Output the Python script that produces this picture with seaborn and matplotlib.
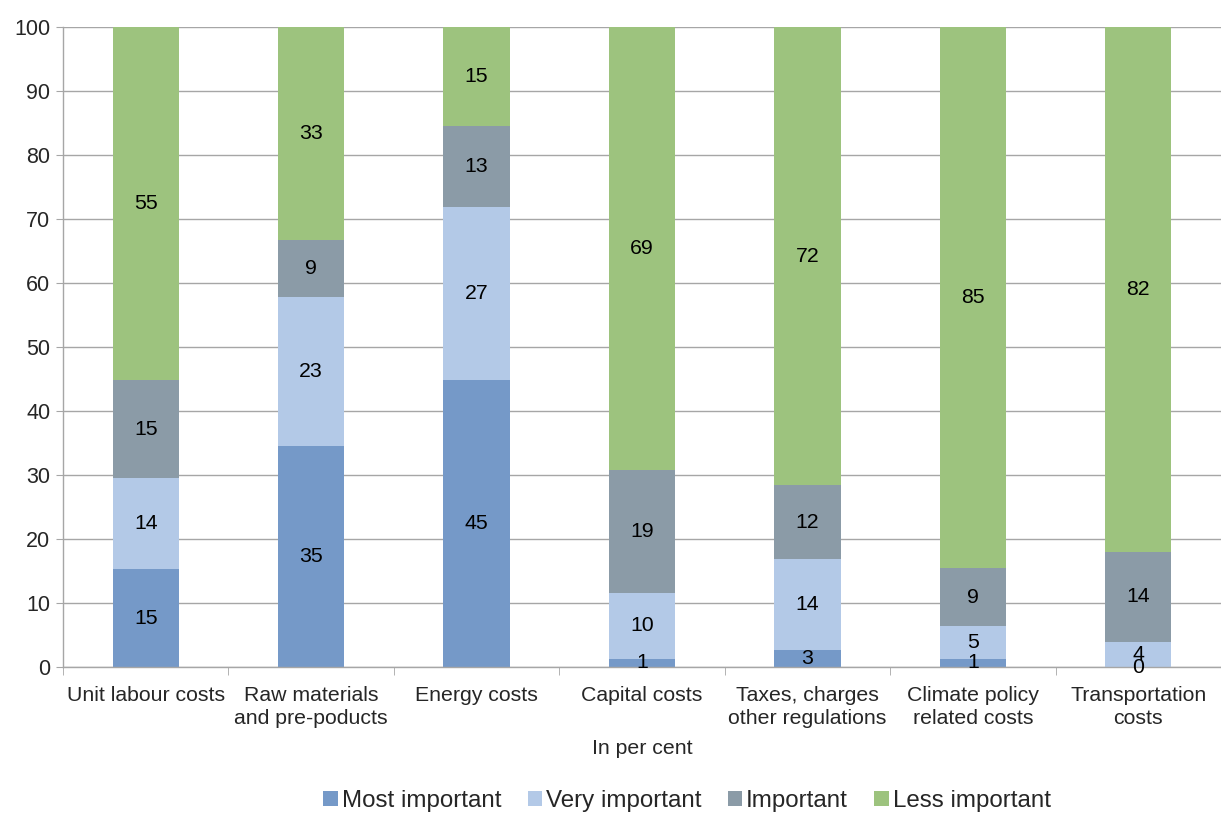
import numpy as np
import pandas as pd
import matplotlib
matplotlib.use("Agg")
import matplotlib.pyplot as plt
import seaborn as sns
from matplotlib.patches import Patch

categories = ["Unit labour costs", "Raw materials\nand pre-poducts", "Energy costs",
              "Capital costs", "Taxes, charges\nother regulations",
              "Climate policy\nrelated costs", "Transportation\ncosts"]
most_important = [15.3, 34.6, 44.8, 1.3, 2.6, 1.3, 0.0]
very_important = [14.2, 23.2, 27.1, 10.3, 14.2, 5.1, 3.9]
important = [15.3, 8.9, 12.7, 19.2, 11.6, 9.0, 14.1]
less_important = [55.2, 33.3, 15.4, 69.2, 71.6, 84.6, 82.0]

series = ["Most important", "Very important", "Important", "Less important"]
colors = ["#7599c8", "#b3c9e7", "#8b9ba7", "#9dc37e"]

sns.set_style("white")
plt.rcParams["font.family"] = ["Liberation Sans", "DejaVu Sans"]

df = pd.DataFrame({"cat": categories, series[0]: most_important,
                   series[1]: very_important, series[2]: important,
                   series[3]: less_important})
cum = df[series].cumsum(axis=1)

fig = plt.figure(figsize=(12.21, 8.13), dpi=100)
ax = fig.add_axes([63 / 1221, 1 - 667 / 813, (1221 - 63) / 1221, 640 / 813])

# draw cumulative totals from top down so shorter bars sit on top
for s, c in zip(reversed(series), reversed(colors)):
    sns.barplot(x=df["cat"], y=cum[s], color=c, width=0.4, saturation=1,
                edgecolor="none", ax=ax)

# segment labels
for i in range(len(categories)):
    base = 0
    for s in series:
        v = df.loc[i, s]
        ax.text(i, base + v / 2, f"{v:.0f}", ha="center", va="center",
                fontsize=15.3, color="black")
        base += v

ax.set_ylim(0, 100)
ax.set_xlim(-0.5, len(categories) - 0.5)
ax.set_yticks(np.arange(0, 101, 10))
ax.yaxis.grid(True, color="#a6a6a6", linewidth=1)
ax.set_axisbelow(True)
ax.set_xticks(range(len(categories)))
ax.set_xticklabels(categories, fontsize=15.3, linespacing=1.25)
ax.set_xticks(np.arange(-0.5, len(categories)), minor=True)
ax.tick_params(axis="x", which="major", length=0, pad=14)
ax.tick_params(axis="x", which="minor", length=6, color="#a6a6a6", direction="out")
ax.tick_params(axis="y", length=5, color="#a6a6a6", labelsize=15.5, direction="out", pad=4)
ax.xaxis.set_ticks_position("bottom")
ax.yaxis.set_ticks_position("left")
for sp in ["top", "right"]:
    ax.spines[sp].set_visible(False)
for sp in ["left", "bottom"]:
    ax.spines[sp].set_color("#a6a6a6")
    ax.spines[sp].set_linewidth(1)
ax.set_xlabel("In per cent", fontsize=15.3, labelpad=8)
ax.set_ylabel("")

handles = [Patch(facecolor=c, edgecolor="none") for c in colors]
fig.legend(handles, series, loc="center", bbox_to_anchor=(687 / 1221, 1 - 801 / 813),
           ncol=4, frameon=False, fontsize=17.4, handlelength=0.6, handleheight=0.6,
           handletextpad=0.15, columnspacing=1.1, borderpad=0)

fig.savefig("out.png", dpi=100)
